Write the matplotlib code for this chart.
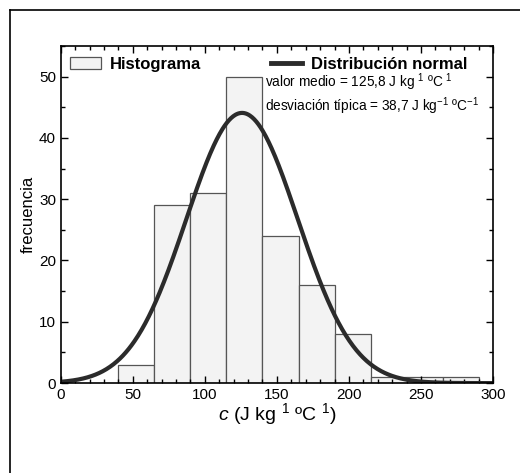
import numpy as np
import matplotlib
matplotlib.use('Agg')
import matplotlib.pyplot as plt
from matplotlib.lines import Line2D
from matplotlib.patches import Patch
from matplotlib.ticker import MultipleLocator

plt.rcParams['font.family'] = ['Liberation Sans', 'DejaVu Sans']
plt.rcParams['mathtext.fontset'] = 'custom'
plt.rcParams['mathtext.rm'] = 'Liberation Sans'
plt.rcParams['mathtext.it'] = 'Liberation Sans:italic'
plt.rcParams['mathtext.bf'] = 'Liberation Sans:bold'

# histogram bins (left edges) and counts, bin width 25
bin_left = [40, 65, 90, 115, 140, 165, 190, 215, 240, 265]
counts = [3, 29, 31, 50, 24, 16, 8, 1, 1, 1]
bin_width = 25

# fitted normal distribution
mean_c = 125.8
std_c = 38.7
n_total = 171

fig = plt.figure(figsize=(5.2, 4.73), dpi=100)
ax = fig.add_axes([0.117, 0.19, 0.831, 0.713])

ax.bar(bin_left, counts, width=bin_width, align='edge', color='#f3f3f3',
       edgecolor='#555555', linewidth=0.9, label='Histograma')

x = np.linspace(0, 300, 600)
y = n_total * bin_width / (std_c * np.sqrt(2 * np.pi)) * np.exp(-0.5 * ((x - mean_c) / std_c) ** 2)
ax.plot(x, y, color='#2b2b2b', linewidth=3, label='Distribución normal')

ax.set_xlim(0, 300)
ax.set_ylim(0, 55)
ax.xaxis.set_major_locator(MultipleLocator(50))
ax.xaxis.set_minor_locator(MultipleLocator(10))
ax.yaxis.set_major_locator(MultipleLocator(10))
ax.yaxis.set_minor_locator(MultipleLocator(5))
ax.tick_params(which='both', direction='in', top=True, right=True, labelsize=11, width=1)
ax.tick_params(which='major', length=5)
ax.tick_params(which='minor', length=3)
for s in ax.spines.values():
    s.set_linewidth(1.2)

ax.set_ylabel('frecuencia', fontsize=12, labelpad=2)
ax.set_xlabel(r'$c$ (J kg $^{1}$ ºC $^{1}$)', fontsize=14, labelpad=-1)

handles = [Patch(facecolor='#f3f3f3', edgecolor='#555555', linewidth=0.9),
           Line2D([], [], color='#2b2b2b', linewidth=3.5)]
ax.legend(handles, ['Histograma', 'Distribución normal'], ncol=2, frameon=False,
          loc='upper left', bbox_to_anchor=(-0.005, 1.0), columnspacing=4.2,
          handlelength=1.9, handletextpad=0.5, borderaxespad=0.25,
          prop={'weight': 'bold', 'size': 12})

ax.text(141.5, 49.0, 'valor medio = 125,8 J kg $^{1}$ ºC $^{1}$', fontsize=9.8, va='center')
ax.text(141.5, 45.1, 'desviación típica = 38,7 J kg$^{-1}$ ºC$^{-1}$', fontsize=9.8, va='center')

# outer frame (left and top edges visible)
fig.add_artist(Line2D([9.5 / 520, 9.5 / 520], [0, 1 - 10 / 473], color='black', linewidth=1.2,
                      transform=fig.transFigure))
fig.add_artist(Line2D([9.5 / 520, 1], [1 - 10 / 473, 1 - 10 / 473], color='black', linewidth=1.2,
                      transform=fig.transFigure))

fig.savefig('out.png', dpi=100)
